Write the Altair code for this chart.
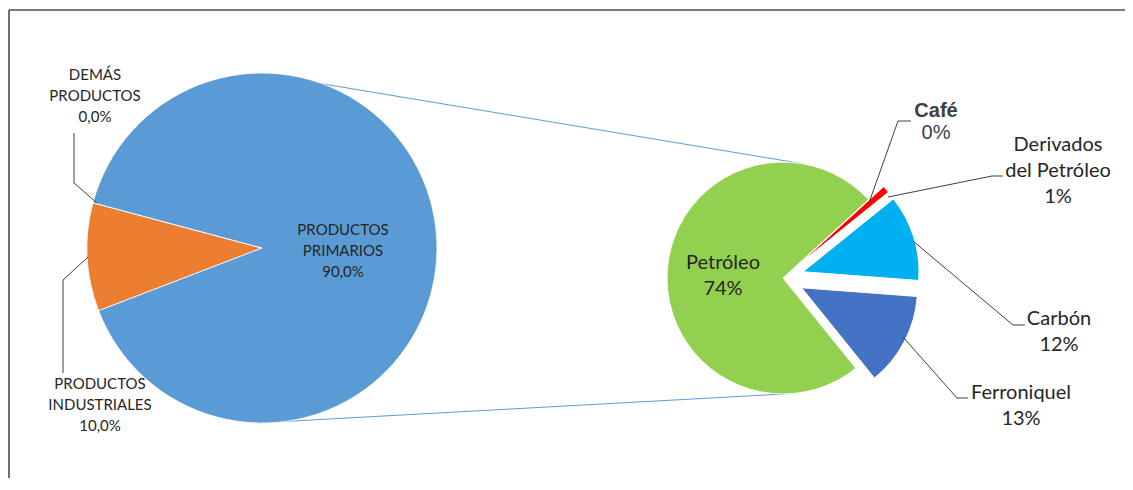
import math
import altair as alt
import pandas as pd

# ---------------- data ----------------
main_categories = ["PRODUCTOS INDUSTRIALES", "DEMÁS PRODUCTOS", "PRODUCTOS PRIMARIOS"]
main_values = [10.0, 0.0, 90.0]
main_labels = ["PRODUCTOS\nINDUSTRIALES\n10,0%", "DEMÁS\nPRODUCTOS\n0,0%", "PRODUCTOS\nPRIMARIOS\n90,0%"]

sub_categories = ["Café", "Derivados del Petróleo", "Carbón", "Ferroniquel", "Petróleo"]
sub_values = [0, 1, 12, 13, 74]
sub_labels = ["Café\n0%", "Derivados\ndel Petróleo\n1%", "Carbón\n12%", "Ferroniquel\n13%", "Petróleo\n74%"]

# ---------------- styles / layout ----------------
main_colors = ["#ED7D31", "#A5A5A5", "#5B9BD5"]
sub_colors = ["#7F6000", "#FF0000", "#00B0F0", "#4472C4", "#92D050"]

M = 8  # page margin
W, H = 1117, 470

BIG = dict(cx=262 - M, cy=248 - M, r=175, start=249.0)
SMALL = dict(cx=783 - M, cy=278 - M, r=116, start=47.5)
explode = {"Café": 20, "Derivados del Petróleo": 20, "Carbón": 21, "Ferroniquel": 21, "Petróleo": 0}

TEXT_COLOR = "#262626"

# label anchor points: centre of the text block (page coordinates)
label_pos = {
    "PRODUCTOS INDUSTRIALES": (100, 405),
    "DEMÁS PRODUCTOS": (95, 96),
    "PRODUCTOS PRIMARIOS": (343, 251),
    "Derivados del Petróleo": (1058, 171),
    "Carbón": (1059, 332),
    "Ferroniquel": (1021, 406),
    "Petróleo": (723, 276),
}
cafe_pos = (936, 111, 133)

# leader lines (page coordinates)
leaders = {
    "DEMÁS PRODUCTOS": [(97, 203), (74, 183), (74, 133)],
    "PRODUCTOS INDUSTRIALES": [(88, 257), (63, 280), (63, 373)],
    "Café": [(870, 200), (898, 121), (911, 121)],
    "Derivados del Petróleo": [(888, 197), (992, 176), (1003, 176)],
    "Carbón": [(913, 241), (1013, 325), (1025, 325)],
    "Ferroniquel": [(903, 337), (957, 398), (968, 398)],
}

# connector angles (big pie angle, small pie angle) in degrees
connectors = [(-1.5, 11.0), (181.5, 174.0)]


def pie(categories, values, colors, geo, expl=None, stroke_w=1.0):
    df = pd.DataFrame({
        "category": categories,
        "value": values,
        "order": list(range(len(categories))),
        "explode": [(expl or {}).get(c, 0) for c in categories],
        "colour": colors,
    })
    s = math.radians(geo["start"])
    return (
        alt.Chart(df)
        .transform_window(cum="sum(value)", sort=[alt.SortField("order", order="ascending")], frame=[None, 0])
        .transform_calculate(
            start="datum.cum - datum.value",
            ang=f"{s} + (datum.cum - datum.value / 2) / 100 * 2 * PI",
        )
        .transform_calculate(
            px=f"{geo['cx']} + datum.explode * sin(datum.ang)",
            py=f"{geo['cy']} - datum.explode * cos(datum.ang)",
        )
        .mark_arc(outerRadius=geo["r"], stroke="white", strokeWidth=stroke_w)
        .encode(
            theta=alt.Theta("start:Q", scale=alt.Scale(domain=[0, 100], range=[s, s + 2 * math.pi])),
            theta2="cum:Q",
            x=alt.X("px:Q", scale=None, axis=None),
            y=alt.Y("py:Q", scale=None, axis=None),
            color=alt.Color("colour:N", scale=None, legend=None),
            order=alt.Order("order:Q"),
        )
    )


big_pie = pie(main_categories, main_values, main_colors, BIG, stroke_w=0.8)
small_pie = pie(sub_categories, sub_values, sub_colors, SMALL, explode, stroke_w=1.0)
pies = alt.layer(big_pie, small_pie).resolve_scale(theta="independent")

# connector lines between the pies
conn_rows = []
for a_big, a_small in connectors:
    ab, asm = math.radians(a_big), math.radians(a_small)
    conn_rows.append({
        "x": BIG["cx"] + BIG["r"] * math.sin(ab), "y": BIG["cy"] - BIG["r"] * math.cos(ab),
        "x2": SMALL["cx"] + SMALL["r"] * math.sin(asm), "y2": SMALL["cy"] - SMALL["r"] * math.cos(asm),
    })
conn = alt.Chart(pd.DataFrame(conn_rows)).mark_rule(color="#5B9BD5", strokeWidth=1).encode(
    x=alt.X("x:Q", scale=None, axis=None), y=alt.Y("y:Q", scale=None, axis=None),
    x2="x2:Q", y2="y2:Q",
)

# leader lines
lead_rows = []
for k, pts in leaders.items():
    for i, (x, y) in enumerate(pts):
        lead_rows.append({"id": k, "seq": i, "x": x - M, "y": y - M})
lead = alt.Chart(pd.DataFrame(lead_rows)).mark_line(color="#404040", strokeWidth=1).encode(
    x=alt.X("x:Q", scale=None, axis=None), y=alt.Y("y:Q", scale=None, axis=None),
    detail="id:N", order="seq:Q",
)

# labels
all_labels = dict(zip(main_categories, main_labels))
all_labels.update(dict(zip(sub_categories, sub_labels)))
left_keys = main_categories
right_keys = ["Derivados del Petróleo", "Carbón", "Ferroniquel", "Petróleo"]


def label_df(keys, lh):
    # Vega places the first line at y; shift so the block is centred on the anchor
    return pd.DataFrame({
        "label": [all_labels[k] for k in keys],
        "x": [label_pos[k][0] - M for k in keys],
        "y": [label_pos[k][1] - M - (all_labels[k].count("\n")) * lh / 2 for k in keys],
    })


LH_L, LH_R = 21, 26
left_text = alt.Chart(label_df(left_keys, LH_L)).mark_text(
    font="Lato", fontSize=15, lineHeight=LH_L, lineBreak="\n", align="center", baseline="middle", color=TEXT_COLOR
).encode(x=alt.X("x:Q", scale=None, axis=None), y=alt.Y("y:Q", scale=None, axis=None), text="label:N")

right_text = alt.Chart(label_df(right_keys, LH_R)).mark_text(
    font="Lato", fontSize=20, lineHeight=LH_R, lineBreak="\n", align="center", baseline="middle", color=TEXT_COLOR
).encode(x=alt.X("x:Q", scale=None, axis=None), y=alt.Y("y:Q", scale=None, axis=None), text="label:N")

cafe_lines = all_labels["Café"].split("\n")
cafe_df = pd.DataFrame({"label": cafe_lines, "x": [cafe_pos[0] - M] * 2,
                        "y": [cafe_pos[1] - M, cafe_pos[2] - M]})
cafe_title = alt.Chart(cafe_df.iloc[[0]]).mark_text(
    font="Liberation Sans", fontSize=20, fontWeight="bold", align="center", baseline="middle", color="#404040"
).encode(x=alt.X("x:Q", scale=None, axis=None), y=alt.Y("y:Q", scale=None, axis=None), text="label:N")
cafe_val = alt.Chart(cafe_df.iloc[[1]]).mark_text(
    font="Liberation Sans", fontSize=20, align="center", baseline="middle", color="#404040"
).encode(x=alt.X("x:Q", scale=None, axis=None), y=alt.Y("y:Q", scale=None, axis=None), text="label:N")

# frame (top and left edges visible)
frame_top = alt.Chart(pd.DataFrame({"k": [0]})).mark_rule(color="#4d4d4d", strokeWidth=1.6).encode(
    x=alt.value(1), x2=alt.value(W), y=alt.value(2))
frame_left = alt.Chart(pd.DataFrame({"k": [0]})).mark_rule(color="#4d4d4d", strokeWidth=1.6).encode(
    x=alt.value(1), y=alt.value(2), y2=alt.value(H))

chart = (
    alt.layer(frame_top, frame_left, conn, pies, lead, left_text, right_text, cafe_title, cafe_val)
    .properties(
        width=W, height=H, padding=0,
        autosize=alt.AutoSizeParams(type="fit", contains="padding"),
    )
    .configure(background="white")
    .configure_view(strokeWidth=0, stroke="transparent")
)

chart.save("out.html", embed_options={"renderer": "svg", "actions": False})
